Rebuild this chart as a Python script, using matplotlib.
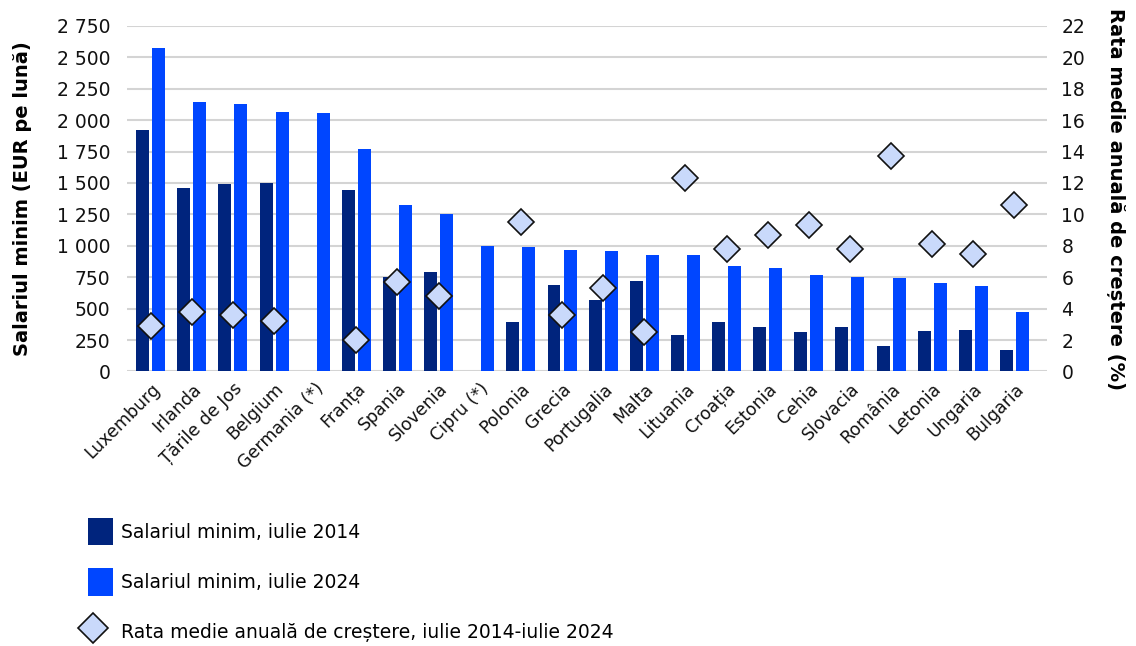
import numpy as np
import matplotlib.pyplot as plt
from matplotlib.ticker import FuncFormatter, MultipleLocator
from matplotlib.patches import Patch
from matplotlib.lines import Line2D
from matplotlib.legend_handler import HandlerLine2D

countries = ["Luxemburg", "Irlanda", "Țările de Jos", "Belgium", "Germania (*)", "Franța",
             "Spania", "Slovenia", "Cipru (*)", "Polonia", "Grecia", "Portugalia", "Malta",
             "Lituania", "Croația", "Estonia", "Cehia", "Slovacia", "România", "Letonia",
             "Ungaria", "Bulgaria"]
wage_2014 = [1923, 1463, 1494, 1502, np.nan, 1447, 753, 789, np.nan, 397, 684, 565, 718,
             290, 397, 355, 310, 352, 199, 320, 330, 170]
wage_2024 = [2570, 2146, 2130, 2067, 2054, 1767, 1323, 1254, 1000, 994, 968, 957, 925,
             924, 840, 820, 764, 750, 742, 704, 676, 477]
growth = [2.9, 3.8, 3.6, 3.2, np.nan, 2.0, 5.7, 4.8, np.nan, 9.5, 3.6, 5.3, 2.5,
          12.3, 7.8, 8.7, 9.3, 7.8, 13.7, 8.1, 7.5, 10.6]

dark = "#00247d"
bright = "#0046ff"
light = "#c9d9fb"

fig = plt.figure(figsize=(11.36, 6.46), dpi=100)
ax = fig.add_axes([0.112, 0.425, 0.81, 0.535])
ax2 = ax.twinx()

x = np.arange(len(countries))
w = 0.315
ax.bar(x - 0.195, wage_2014, width=w, color=dark, zorder=3)
ax.bar(x + 0.195, wage_2024, width=w, color=bright, zorder=3)
ax2.plot(x, growth, linestyle="none", marker="D", markersize=13,
         markerfacecolor=light, markeredgecolor="#111111", markeredgewidth=1.2, zorder=5)

ax.set_xlim(-0.57, len(countries) - 0.2)
ax.set_ylim(0, 2750)
ax2.set_ylim(0, 22)
ax.yaxis.set_major_locator(MultipleLocator(250))
ax2.yaxis.set_major_locator(MultipleLocator(2))
ax.yaxis.set_major_formatter(FuncFormatter(lambda v, p: f"{int(v):,}".replace(",", " ")))
ax.grid(axis="y", color="#d4d4d4", linewidth=1.5, zorder=0)
ax.set_axisbelow(True)

for a in (ax, ax2):
    for s in a.spines.values():
        s.set_visible(False)
    a.tick_params(length=0, labelsize=13.5, colors="#111111")
ax.tick_params(axis="y", pad=12)
ax2.tick_params(axis="y", pad=10)

ax.set_xticks(x)
ax.set_xticklabels(countries, rotation=45, ha="right", rotation_mode="anchor", fontsize=12.5)
ax.tick_params(axis="x", pad=6)

ax.set_ylabel("Salariul minim (EUR pe lună)", fontsize=14, fontweight="bold", labelpad=18)
ax2.set_ylabel("Rata medie anuală de creștere (%)", fontsize=14, fontweight="bold",
               rotation=270, labelpad=29)

diamond = Line2D([], [], linestyle="none", marker="D", markersize=15.5,
                 markerfacecolor=light, markeredgecolor="#111111", markeredgewidth=1.2)
handles = [Patch(facecolor=dark, edgecolor="none"),
           Patch(facecolor=bright, edgecolor="none"),
           diamond]
labels = ["Salariul minim, iulie 2014", "Salariul minim, iulie 2024",
          "Rata medie anuală de creștere, iulie 2014-iulie 2024"]
fig.legend(handles, labels, loc="lower left", bbox_to_anchor=(0.063, -0.026), frameon=False,
           fontsize=13.5, handlelength=1.3, handleheight=1.9, handletextpad=0.45,
           labelspacing=1.2, handler_map={diamond: HandlerLine2D(xpad=-0.85)})

fig.savefig("out.png", dpi=100)
